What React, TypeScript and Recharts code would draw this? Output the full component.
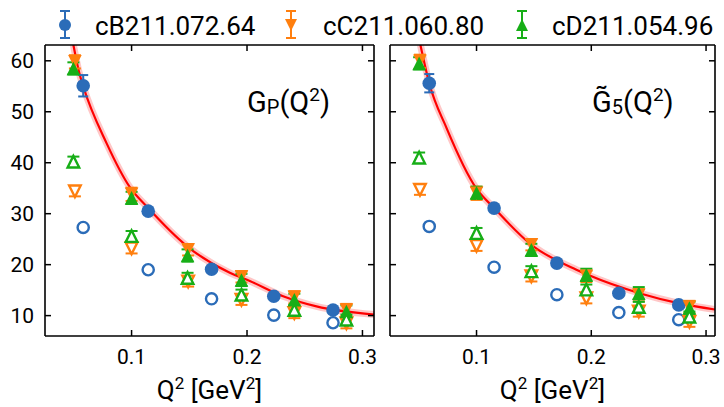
import React from 'react';
import { ComposedChart, Scatter, Line, XAxis, YAxis, ErrorBar } from 'recharts';

const BLUE = '#2b6cb8';
const ORANGE = '#ff7f0e';
const GREEN = '#17ae17';
const RED = '#ff0000';
const FONT = 'Roboto, "Liberation Sans", Arial, sans-serif';

// ---------- tick labels ----------
const xTicks = [0.1, 0.2, 0.3];
const yTicks = [10, 20, 30, 40, 50, 60];

// ---------- legend ----------
const ensembleNames = ['cB211.072.64', 'cC211.060.80', 'cD211.054.96'];

// ---------- left panel: G_P(Q^2) ----------
const gpBQ2 = [0.0581, 0.1144, 0.1693, 0.2232, 0.2745];
const gpBFilled = [55.1, 30.5, 19.1, 13.8, 11.1];
const gpBFilledErr = [2.1, 0.6, 0.4, 0.3, 0.3];
const gpBOpen = [27.3, 19.0, 13.3, 10.1, 8.6];
const gpBOpenErr = [0.5, 0.3, 0.3, 0.2, 0.2];

const gpCQ2 = [0.0509, 0.1, 0.149, 0.1952, 0.241, 0.2861];
const gpCFilled = [59.8, 33.8, 22.9, 17.6, 13.6, 11.1];
const gpCFilledErr = [1.3, 1.3, 1.1, 1.1, 1.2, 1.2];
const gpCOpen = [34.4, 23.2, 16.7, 13.1, 10.5, 8.5];
const gpCOpenErr = [1.0, 1.0, 1.0, 1.0, 1.0, 1.0];

const gpDQ2 = [0.0496, 0.1, 0.1485, 0.1952, 0.241, 0.2861];
const gpDFilled = [58.5, 33.1, 21.8, 17.0, 13.1, 10.8];
const gpDFilledErr = [1.2, 1.2, 1.2, 1.2, 1.2, 1.2];
const gpDOpen = [40.2, 25.6, 17.4, 14.1, 11.1, 9.2];
const gpDOpenErr = [1.0, 1.0, 1.0, 1.0, 1.0, 1.0];

const gpCurveQ2 = [0.0496, 0.0546, 0.0581, 0.0784, 0.0985, 0.1144, 0.1476, 0.1851, 0.2024, 0.2313, 0.2602, 0.31];
const gpCurveVal = [63.1, 57.7, 55.0, 43.8, 35.2, 31.1, 23.7, 18.4, 16.8, 13.8, 11.8, 10.2];

// ---------- right panel: G5~(Q^2) ----------
const g5BQ2 = [0.0588, 0.1153, 0.17, 0.224, 0.2762];
const g5BFilled = [55.6, 31.1, 20.3, 14.4, 12.1];
const g5BFilledErr = [1.8, 0.6, 0.4, 0.3, 0.3];
const g5BOpen = [27.5, 19.5, 14.1, 10.6, 9.2];
const g5BOpenErr = [0.5, 0.3, 0.3, 0.2, 0.2];

const g5CQ2 = [0.0507, 0.1, 0.1478, 0.1957, 0.2414, 0.2855];
const g5CFilled = [59.9, 34.0, 23.9, 17.7, 14.0, 11.7];
const g5CFilledErr = [1.3, 1.3, 1.1, 1.1, 1.2, 1.2];
const g5COpen = [34.7, 23.7, 17.7, 13.4, 10.8, 8.8];
const g5COpenErr = [1.0, 1.0, 1.0, 1.0, 1.0, 1.0];

const g5DQ2 = [0.05, 0.1, 0.1478, 0.1957, 0.2414, 0.2855];
const g5DFilled = [59.5, 34.1, 22.9, 18.0, 14.4, 11.5];
const g5DFilledErr = [1.2, 1.2, 1.2, 1.2, 1.2, 1.2];
const g5DOpen = [41.0, 26.2, 18.7, 15.1, 11.7, 9.8];
const g5DOpenErr = [1.0, 1.0, 1.0, 1.0, 1.0, 1.0];

const g5CurveQ2 = [0.0511, 0.0588, 0.0739, 0.1, 0.1153, 0.1478, 0.187, 0.197, 0.242, 0.2768, 0.3078];
const g5CurveVal = [63.1, 55.6, 46.8, 34.9, 31.1, 23.9, 19.0, 18.0, 14.4, 12.4, 11.2];

const pts = (xs: number[], ys: number[], es?: number[]) =>
  xs.map((x, i) => ({ x, y: ys[i], e: es ? es[i] : 0 }));

type Kind = 'circle' | 'up' | 'down';

const marker = (kind: Kind, color: string, filled: boolean) => (props: any) => {
  const { cx, cy } = props;
  if (cx == null || cy == null) return <g />;
  const sw = filled ? 0 : 2.4;
  const fill = filled ? color : '#ffffff';
  if (kind === 'circle') {
    return <circle cx={cx} cy={cy} r={filled ? 6.8 : 5.6} fill={fill} stroke={color} strokeWidth={sw} />;
  }
  const h = filled ? 6.8 : 5.8;
  const p =
    kind === 'up'
      ? `${cx},${cy - h} ${cx - h},${cy + h} ${cx + h},${cy + h}`
      : `${cx},${cy + h} ${cx - h},${cy - h} ${cx + h},${cy - h}`;
  return <polygon points={p} fill={fill} stroke={color} strokeWidth={sw} strokeLinejoin="miter" />;
};

const emptyTick = () => <g />;

const series = (
  key: string,
  data: any[],
  kind: Kind,
  color: string,
  filled: boolean
) => (
  <Scatter
    key={key}
    data={data}
    dataKey="y"
    shape={marker(kind, color, filled)}
    isAnimationActive={false}
  >
    <ErrorBar
      dataKey="e"
      direction="y"
      width={kind === 'circle' ? 5 : 6}
      stroke={color}
      strokeWidth={2}
      isAnimationActive={false}
    />
  </Scatter>
);

function Panel(props: any) {
  const { width, margin, yWidth, showYLabels, xDomain, B, C, D, curve } = props;
  const axisStroke = { stroke: '#000', strokeWidth: 1.6 };
  const tickStroke = { stroke: '#000', strokeWidth: 1.5 };
  return (
    <ComposedChart width={width} height={407} margin={margin}>
      <XAxis
        dataKey="x"
        type="number"
        domain={xDomain}
        ticks={xTicks}
        allowDataOverflow
        height={71}
        tickSize={-6}
        tickMargin={19}
        axisLine={axisStroke}
        tickLine={tickStroke}
        tick={{ fontSize: 21, fill: '#000', fontFamily: FONT }}
        tickFormatter={(v: number) => v.toFixed(1)}
      />
      <XAxis
        xAxisId="top"
        orientation="top"
        dataKey="x"
        type="number"
        domain={xDomain}
        ticks={xTicks}
        allowDataOverflow
        height={1}
        tickSize={-6}
        axisLine={axisStroke}
        tickLine={tickStroke}
        tick={emptyTick}
      />
      <YAxis
        dataKey="y"
        type="number"
        domain={[6, 63.1]}
        ticks={yTicks}
        allowDataOverflow
        width={yWidth}
        tickSize={-6}
        tickMargin={17}
        axisLine={axisStroke}
        tickLine={tickStroke}
        tick={showYLabels ? { fontSize: 21, fill: '#000', fontFamily: FONT } : emptyTick}
      />
      <YAxis
        yAxisId="right"
        orientation="right"
        dataKey="y"
        type="number"
        domain={[6, 63.1]}
        ticks={yTicks}
        allowDataOverflow
        width={1}
        tickSize={-6}
        axisLine={axisStroke}
        tickLine={tickStroke}
        tick={emptyTick}
      />
      <Line
        data={curve}
        dataKey="y"
        type="monotone"
        stroke="rgba(255,0,0,0.22)"
        strokeWidth={7}
        dot={false}
        activeDot={false}
        isAnimationActive={false}
      />
      <Line
        data={curve}
        dataKey="y"
        type="monotone"
        stroke={RED}
        strokeWidth={2.2}
        dot={false}
        activeDot={false}
        isAnimationActive={false}
      />
      {series('bf', B.filled, 'circle', BLUE, true)}
      {series('bo', B.open, 'circle', BLUE, false)}
      {series('cf', C.filled, 'down', ORANGE, true)}
      {series('co', C.open, 'down', ORANGE, false)}
      {series('df', D.filled, 'up', GREEN, true)}
      {series('do', D.open, 'up', GREEN, false)}
    </ComposedChart>
  );
}

const LegendMarker = ({ x, kind, color }: { x: number; kind: Kind; color: string }) => {
  const cy = 25;
  const h = 6;
  let m;
  if (kind === 'circle') m = <circle cx={x} cy={cy} r={6} fill={color} />;
  else if (kind === 'down')
    m = <polygon points={`${x},${cy + h} ${x - h},${cy - h} ${x + h},${cy - h}`} fill={color} />;
  else m = <polygon points={`${x},${cy - h} ${x - h},${cy + h} ${x + h},${cy + h}`} fill={color} />;
  return (
    <g>
      <line x1={x} x2={x} y1={11} y2={38} stroke={color} strokeWidth={2} />
      <line x1={x - 5} x2={x + 5} y1={11} y2={11} stroke={color} strokeWidth={2} />
      <line x1={x - 5} x2={x + 5} y1={38} y2={38} stroke={color} strokeWidth={2} />
      {m}
    </g>
  );
};

export default function App() {
  const left = {
    B: { filled: pts(gpBQ2, gpBFilled, gpBFilledErr), open: pts(gpBQ2, gpBOpen, gpBOpenErr) },
    C: { filled: pts(gpCQ2, gpCFilled, gpCFilledErr), open: pts(gpCQ2, gpCOpen, gpCOpenErr) },
    D: { filled: pts(gpDQ2, gpDFilled, gpDFilledErr), open: pts(gpDQ2, gpDOpen, gpDOpenErr) },
    curve: pts(gpCurveQ2, gpCurveVal),
  };
  const right = {
    B: { filled: pts(g5BQ2, g5BFilled, g5BFilledErr), open: pts(g5BQ2, g5BOpen, g5BOpenErr) },
    C: { filled: pts(g5CQ2, g5CFilled, g5CFilledErr), open: pts(g5CQ2, g5COpen, g5COpenErr) },
    D: { filled: pts(g5DQ2, g5DFilled, g5DFilledErr), open: pts(g5DQ2, g5DOpen, g5DOpenErr) },
    curve: pts(g5CurveQ2, g5CurveVal),
  };
  const legendX = [65, 291, 522];
  const legendTextX = [95, 323, 552];
  const legendKinds: Kind[] = ['circle', 'down', 'up'];
  const legendColors = [BLUE, ORANGE, GREEN];
  return (
    <div style={{ position: 'absolute', left: 0, top: 0, width: 724, height: 407, background: '#fff', fontFamily: FONT }}>
      <div style={{ position: 'absolute', left: 0, top: 0 }}>
        <Panel
          width={380}
          margin={{ top: 44, right: 5, bottom: 0, left: 0 }}
          yWidth={45}
          showYLabels={true}
          xDomain={[0.025, 0.31]}
          {...left}
        />
      </div>
      <div style={{ position: 'absolute', left: 380, top: 0 }}>
        <Panel
          width={344}
          margin={{ top: 44, right: 8, bottom: 0, left: 0 }}
          yWidth={10}
          showYLabels={false}
          xDomain={[0.0246, 0.3078]}
          {...right}
        />
      </div>
      <svg
        width={724}
        height={407}
        style={{ position: 'absolute', left: 0, top: 0, pointerEvents: 'none' }}
        fontFamily={FONT}
      >
        {ensembleNames.map((n, i) => (
          <g key={n}>
            <LegendMarker x={legendX[i]} kind={legendKinds[i]} color={legendColors[i]} />
            <text x={legendTextX[i]} y={35} fontSize={26} fill="#000">
              {n}
            </text>
          </g>
        ))}
        <text x={247} y={112} fontSize={29} fill="#000">
          G<tspan fontSize={20} dy={2}>P</tspan>
          <tspan dy={-2}>(Q</tspan>
          <tspan fontSize={19} dy={-11}>2</tspan>
          <tspan dy={11}>)</tspan>
        </text>
        <text x={592} y={112} fontSize={29} fill="#000">
          {'G\u0303'}<tspan fontSize={20} dy={2}>5</tspan>
          <tspan dy={-2}>(Q</tspan>
          <tspan fontSize={19} dy={-11}>2</tspan>
          <tspan dy={11}>)</tspan>
        </text>
        <text x={209.5} y={399} fontSize={26} fill="#000" textAnchor="middle">
          Q<tspan fontSize={17} dy={-10}>2</tspan>
          <tspan dy={10}> [GeV</tspan>
          <tspan fontSize={17} dy={-10}>2</tspan>
          <tspan dy={10}>]</tspan>
        </text>
        <text x={552.5} y={399} fontSize={26} fill="#000" textAnchor="middle">
          Q<tspan fontSize={17} dy={-10}>2</tspan>
          <tspan dy={10}> [GeV</tspan>
          <tspan fontSize={17} dy={-10}>2</tspan>
          <tspan dy={10}>]</tspan>
        </text>
      </svg>
    </div>
  );
}
